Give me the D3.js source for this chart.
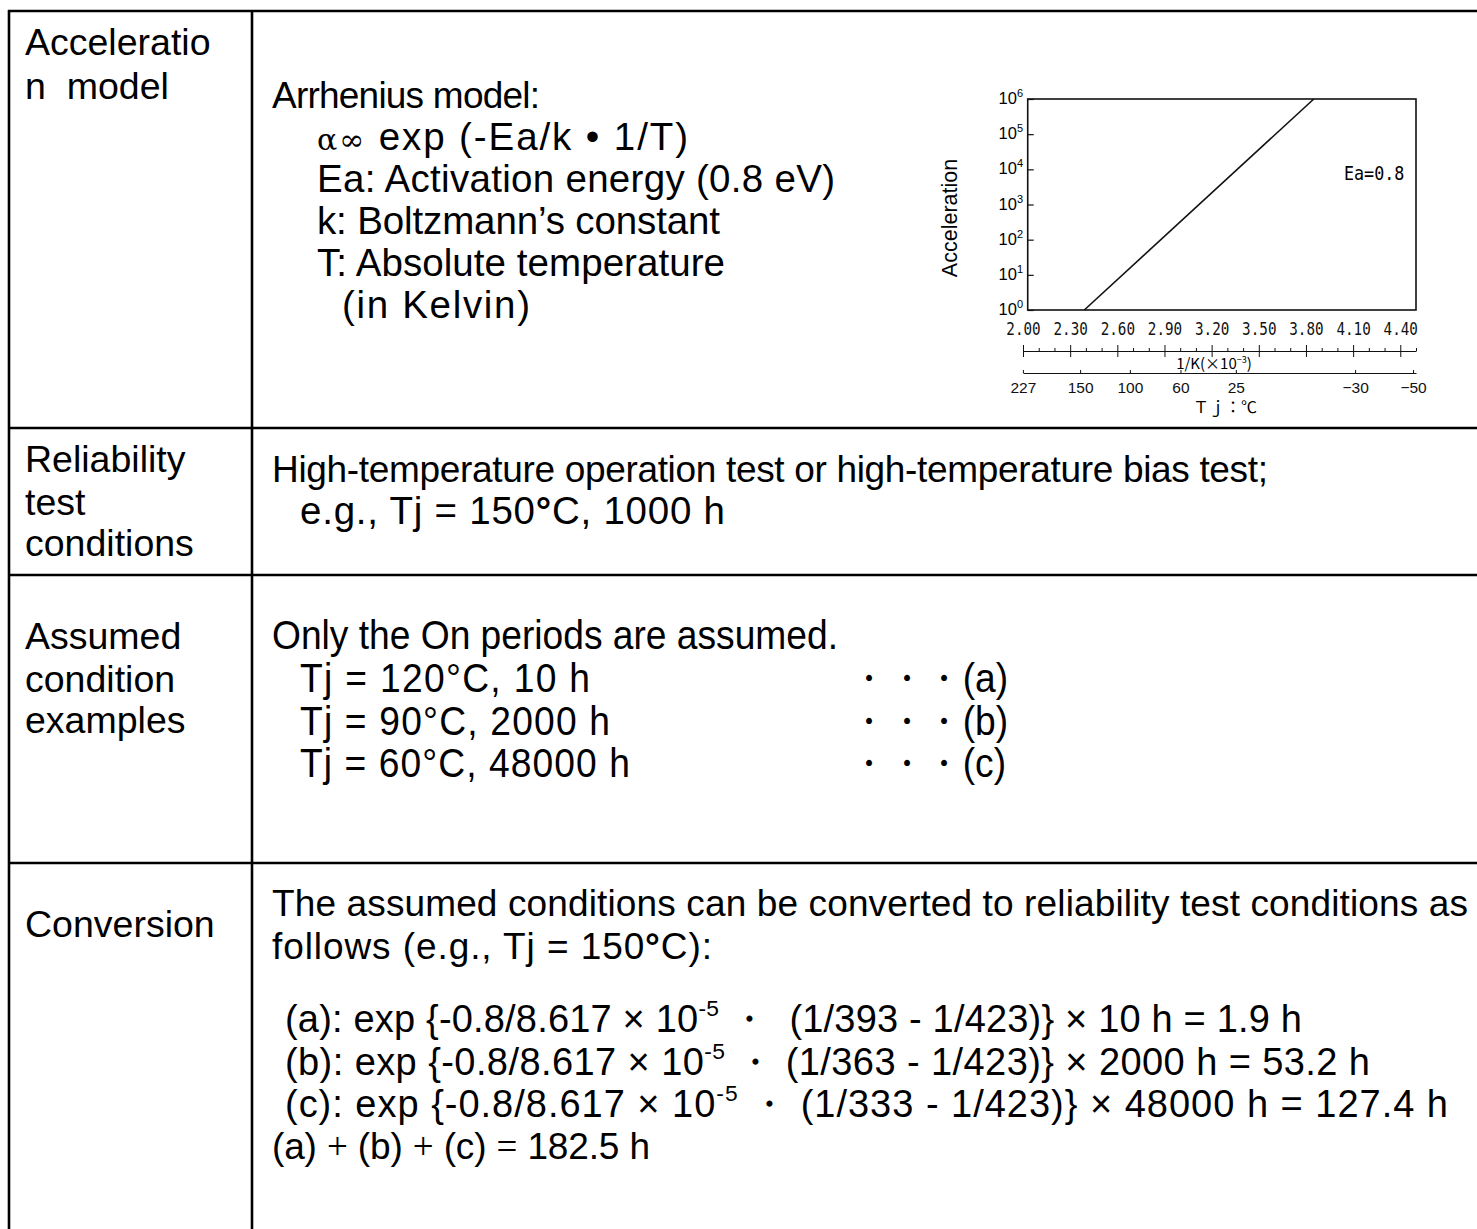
<!DOCTYPE html>
<html>
<head>
<meta charset="utf-8">
<script src="https://cdn.jsdelivr.net/npm/d3@7"></script>
<style>
  body { margin: 0; background: #fff; }
  svg text { white-space: pre; }
</style>
</head>
<body>
<svg id="sheet" width="1477" height="1229"></svg>
<script>
// ---- chart values (1/K is in units of 10^-3) ----
var invTicks = [2.0, 2.3, 2.6, 2.9, 3.2, 3.5, 3.8, 4.1, 4.4];
var tempTicks = [227, 150, 100, 60, 25, -30, -50];
var accelTicks = [1, 10, 100, 1e3, 1e4, 1e5, 1e6];
var eaLine = [{ inv: 2.39, acc: 1 }, { inv: 3.85, acc: 1e6 }];
var eaLabel = "Ea=0.8";

// ---- table values ----
var rowLabels = [
  ["Acceleratio", "n  model"],
  ["Reliability", "test", "conditions"],
  ["Assumed", "condition", "examples"],
  ["Conversion"]
];
var testTemp = 150, testHours = 1000;
var caseTags = ["a", "b", "c"];
var caseTemps = [120, 90, 60];
var caseHours = [10, 2000, 48000];
var caseKelvin = [393, 363, 333];
var refKelvin = 423;
var convHours = [1.9, 53.2, 127.4];
var totalHours = 182.5;

var SANS = "'Liberation Sans', Arial, Helvetica, sans-serif";
var MONO = "'DejaVu Sans Mono', monospace";
var svg = d3.select("#sheet");

// text helper: parts are strings or {t, sup, size, family, weight}
function write(x, y, parts, o) {
  o = o || {};
  var size = o.size || 37;
  var t = svg.append("text")
    .attr("font-family", o.family || SANS)
    .attr("font-size", size)
    .attr("fill", "#000");
  if (o.anchor) t.attr("text-anchor", o.anchor);
  if (o.sx) t.attr("transform", "translate(" + x + "," + y + ") scale(" + o.sx + ",1)");
  else t.attr("x", x).attr("y", y);
  if (o.len) t.attr("textLength", o.sx ? o.len / o.sx : o.len).attr("lengthAdjust", "spacing");
  if (typeof parts === "string") parts = [parts];
  var lift = 0;
  parts.forEach(function (p) {
    if (typeof p === "string") p = { t: p };
    var s = t.append("tspan").text(p.t);
    if (p.sup) {
      s.attr("font-size", size * 0.6).attr("dy", -size * 0.42);
      lift = size * 0.42;
    } else if (lift) {
      s.attr("dy", lift);
      lift = 0;
    }
    if (p.size) s.attr("font-size", p.size);
    if (p.family) s.attr("font-family", p.family);
    if (p.weight) s.attr("font-weight", p.weight);
  });
  return t;
}

// ---- table grid ----
var grid = svg.append("g").attr("stroke", "#000").attr("stroke-width", 2.6);
[11, 428, 575, 863].forEach(function (yy) {
  grid.append("line").attr("x1", 8).attr("x2", 1477).attr("y1", yy).attr("y2", yy);
});
[9, 252].forEach(function (xx) {
  grid.append("line").attr("x1", xx).attr("x2", xx).attr("y1", 10).attr("y2", 1229);
});

// ---- left column ----
var labelY = [[55, 99], [472, 515, 556], [649, 692, 733], [937]];
rowLabels.forEach(function (lines, r) {
  lines.forEach(function (s, i) { write(25, labelY[r][i], s, { size: 37.5 }); });
});

// ---- row 1: model text ----
write(272, 108, "Arrhenius model:", { len: 268 });
write(317, 150, [{ t: "α∞", size: 30, family: "'DejaVu Serif', serif" }, " exp (-Ea/k • 1/T)"], { size: 38.5, len: 371 });
write(317, 192, "Ea: Activation energy (0.8 eV)", { size: 38.5, len: 518 });
write(317, 234, "k: Boltzmann’s constant", { size: 38.5, len: 403 });
write(317, 276, "T: Absolute temperature", { size: 38.5, len: 408 });
write(342, 318, "(in Kelvin)", { size: 38.5, len: 188 });

// ---- row 2 ----
write(272, 482, "High-temperature operation test or high-temperature bias test;", { len: 996 });
write(300, 524, ["e.g., Tj = " + testTemp, { t: "°", weight: "bold" }, "C, " + testHours + " h"], { size: 38.5, len: 425 });

// ---- row 3 ----
var narrow = 0.93;
write(272, 649, "Only the On periods are assumed.", { size: 40, sx: narrow, len: 566 });
caseTemps.forEach(function (tc, i) {
  var yy = 692 + i * 42.5;
  write(300, yy, "Tj = " + tc + "°C, " + caseHours[i] + " h", { size: 40, sx: narrow, len: 290 + i * 20 });
  write(850, yy, "・・・(" + caseTags[i] + ")", { size: 40, sx: narrow });
});

// ---- row 4 ----
write(272, 916, "The assumed conditions can be converted to reliability test conditions as", { len: 1196 });
write(272, 959, ["follows (e.g., Tj = " + testTemp, { t: "°", weight: "bold" }, "C):"], { len: 440 });
var formulaLen = [1017, 1085, 1163];
caseTags.forEach(function (tag, i) {
  var gap = i === 0 ? " ・  (" : " ・ (";
  write(285, 1032 + i * 42.5, [
    "(" + tag + "): exp {-0.8/8.617 × 10", { t: "-5", sup: true },
    gap + "1/" + caseKelvin[i] + " - 1/" + refKelvin + ")} × " + caseHours[i] + " h = " + convHours[i] + " h"
  ], { size: 38, len: formulaLen[i] });
});
var serif = "'Liberation Serif', 'Times New Roman', serif";
write(272, 1159, ["(a) ", { t: "+", family: serif }, " (b) ", { t: "+", family: serif },
  " (c) ", { t: "=", family: serif }, " " + totalHours + " h"], { len: 378 });

// ---- embedded Arrhenius chart ----
var x = d3.scaleLinear().domain([2.0, 4.5]).range([1023, 1416]);
var y = d3.scaleLog().domain([1, 1e6]).range([310, 99]);
var frameInv = [2.03, 4.5];
var toInv = function (c) { return 1000 / (c + 273.15); };
var chart = svg.append("g").attr("color", "#111");

chart.append("rect")
  .attr("x", x(frameInv[0])).attr("y", y(1e6))
  .attr("width", x(frameInv[1]) - x(frameInv[0]))
  .attr("height", y(1) - y(1e6))
  .attr("fill", "none").attr("stroke", "#111").attr("stroke-width", 1.6);

chart.append("g")
  .attr("transform", "translate(" + x(frameInv[0]) + ",0)")
  .call(d3.axisRight(y).tickValues(accelTicks).tickSize(6).tickFormat(""))
  .call(function (g) { g.select(".domain").remove(); })
  .selectAll("line").attr("stroke-width", 1.2);

accelTicks.forEach(function (v) {
  write(1023, y(v) + 5, ["10", { t: String(Math.round(Math.log10(v))), sup: true, size: 11 }],
    { size: 16.5, anchor: "end" });
});

chart.append("path")
  .datum(eaLine)
  .attr("fill", "none").attr("stroke", "#111").attr("stroke-width", 1.6)
  .attr("d", d3.line().x(function (d) { return x(d.inv); }).y(function (d) { return y(d.acc); }));

write(1344, 180, eaLabel, { size: 19, family: MONO, sx: 0.88 });

svg.append("text")
  .attr("transform", "translate(957,218) rotate(-90)")
  .attr("text-anchor", "middle")
  .attr("font-family", SANS).attr("font-size", 21.5)
  .text("Acceleration");

// 1/K axis
var invAxis = chart.append("g").attr("transform", "translate(0,351)")
  .call(d3.axisTop(x).tickValues(invTicks).tickSize(6).tickSizeOuter(0).tickPadding(10)
    .tickFormat(d3.format(".2f")));
invAxis.selectAll("text")
  .attr("font-family", MONO).attr("font-size", 17).attr("fill", "#111")
  .attr("transform", "scale(0.84,1)");
invAxis.selectAll(".tick line").attr("y1", 6).attr("y2", -6);
var minors = d3.range(21, 46).filter(function (k) { return (k - 20) % 3 !== 0; })
  .map(function (k) { return k / 10; });
chart.append("g").attr("transform", "translate(0,351)")
  .call(d3.axisTop(x).tickValues(minors).tickSize(3).tickSizeOuter(0).tickFormat(""))
  .call(function (g) { g.select(".domain").remove(); });
write(1214, 369, ["1/K(×10", { t: "−3", sup: true }, ")"],
  { size: 15, anchor: "middle", family: "'Noto Sans CJK JP', sans-serif" });

// Tj axis
var tAxis = chart.append("g").attr("transform", "translate(0,373)")
  .call(d3.axisBottom(x).tickValues(tempTicks.map(toInv)).tickSize(-3).tickSizeOuter(0).tickPadding(9)
    .tickFormat(function (d, i) { return String(tempTicks[i]).replace("-", "−"); }));
tAxis.selectAll("text").attr("font-family", SANS).attr("font-size", 15.5).attr("fill", "#111");
write(1225, 413, "Ｔｊ：℃", { size: 16, anchor: "middle", family: "'Noto Sans CJK JP', sans-serif" });
</script>
</body>
</html>
